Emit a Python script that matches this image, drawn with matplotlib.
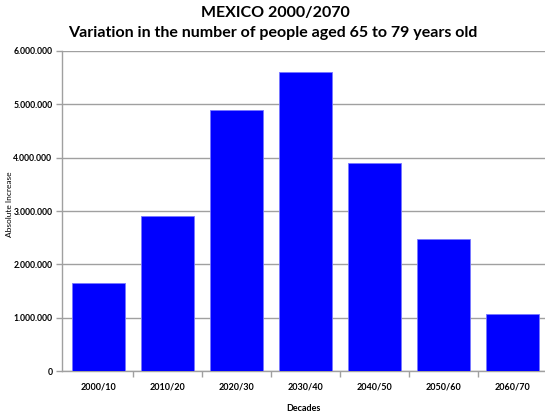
import matplotlib
matplotlib.use("Agg")
import matplotlib.pyplot as plt
from matplotlib.ticker import FuncFormatter, FixedLocator

plt.rcParams['font.family'] = ['Lato', 'DejaVu Sans']

decades = ["2000/10", "2010/20", "2020/30", "2030/40", "2040/50", "2050/60", "2060/70"]
increase = [1655000, 2905000, 4895000, 5605000, 3900000, 2480000, 1065000]
y_ticks = [0, 1000000, 2000000, 3000000, 4000000, 5000000, 6000000]

fig = plt.figure(figsize=(5.45, 4.17), dpi=100)
ax = fig.add_axes([0.1138, 0.1103, 0.8862, 0.7674])

x = range(len(decades))
ax.bar(x, increase, width=0.77, color="#0000FF", edgecolor="#7777ff",
       linewidth=0.6, zorder=3)

ax.set_xlim(-0.53, 6.47)
ax.set_ylim(0, 6000000)
ax.yaxis.set_major_locator(FixedLocator(y_ticks))
ax.yaxis.set_major_formatter(
    FuncFormatter(lambda v, p: f"{int(v):,}".replace(",", ".")))
ax.set_xticks(list(x))
ax.set_xticklabels(decades, fontsize=6.5, fontweight="bold")
ax.xaxis.set_minor_locator(FixedLocator([i + 0.5 for i in range(len(decades) - 1)]))
ax.tick_params(axis="x", which="major", length=0, pad=8)
ax.tick_params(axis="x", which="minor", length=4, color="#a0a0a0", width=1)
ax.tick_params(axis="y", length=4, color="#a0a0a0", width=1, labelsize=6.2, pad=3)
for lbl in ax.get_yticklabels():
    lbl.set_fontweight("bold")

ax.grid(axis="y", color="#a0a0a0", linewidth=1, zorder=0)
ax.set_axisbelow(True)
for side in ("top", "right"):
    ax.spines[side].set_visible(False)
for side in ("left", "bottom"):
    ax.spines[side].set_color("#a0a0a0")
    ax.spines[side].set_linewidth(1)

ax.set_ylabel("Absolute Increase", fontsize=6)
ax.yaxis.set_label_coords(-0.101, 0.52, transform=ax.transAxes)
ax.set_xlabel("Decades", fontsize=6.5, fontweight="bold", labelpad=9)

fig.text(0.505, 0.968, "MEXICO 2000/2070", ha="center", va="center",
         fontsize=11.5, fontweight="bold")
fig.text(0.5, 0.922, "Variation in the number of people aged 65 to 79 years old",
         ha="center", va="center", fontsize=11.5, fontweight="bold")

fig.savefig("out.png", dpi=100)
